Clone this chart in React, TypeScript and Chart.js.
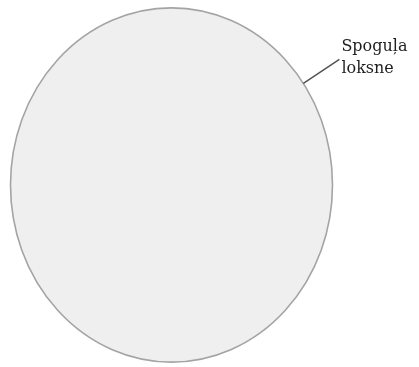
import React, { useEffect, useRef } from "react";
import { Chart, registerables } from "chart.js";

Chart.register(...registerables);

const categories = ["Spoguļa loksne"];
const values = [100];
const fillColors = ["#efefef"];
const outlineColor = "#a4a4a4";

const SCALE_Y = 1.1;

const ellipsePlugin = {
  id: "ellipse",
  beforeDatasetsDraw(chart: any) {
    const arc = chart.getDatasetMeta(0).data[0];
    if (!arc) return;
    const ctx = chart.ctx;
    ctx.save();
    ctx.translate(arc.x, arc.y);
    ctx.scale(1, SCALE_Y);
    ctx.translate(-arc.x, -arc.y);
  },
  afterDatasetsDraw(chart: any) {
    const ctx = chart.ctx;
    const arc = chart.getDatasetMeta(0).data[0];
    if (!arc) {
      ctx.restore();
      return;
    }
    // outline of the (single, full) slice, drawn without the radial seam
    ctx.beginPath();
    ctx.arc(arc.x, arc.y, arc.outerRadius, 0, Math.PI * 2);
    ctx.restore();
    ctx.save();
    ctx.strokeStyle = outlineColor;
    ctx.lineWidth = 1.6;
    ctx.stroke();
    ctx.restore();

    const theta = (-35 * Math.PI) / 180;
    const r = arc.outerRadius;
    const ax = arc.x + r * Math.cos(theta);
    const ay = arc.y + r * SCALE_Y * Math.sin(theta);
    const ex = ax + 36;
    const ey = ay - 24;
    ctx.save();
    ctx.strokeStyle = "#555555";
    ctx.lineWidth = 1.5;
    ctx.beginPath();
    ctx.moveTo(ax, ay);
    ctx.lineTo(ex, ey);
    ctx.stroke();
    ctx.fillStyle = "#1e1e1e";
    ctx.font = "16px 'DejaVu Serif', serif";
    ctx.textAlign = "left";
    ctx.textBaseline = "middle";
    const lines = String(chart.data.labels[0]).split(" ");
    ctx.fillText(lines[0], ex + 2, ey - 13);
    ctx.fillText(lines[1], ex + 2, ey + 9);
    ctx.restore();
  },
};

export default function App() {
  const ref = useRef<HTMLCanvasElement>(null);
  useEffect(() => {
    if (!ref.current) return;
    const chart = new Chart(ref.current, {
      type: "pie",
      data: {
        labels: categories,
        datasets: [
          {
            data: values,
            backgroundColor: fillColors,
            borderWidth: 0,
          },
        ],
      },
      options: {
        responsive: false,
        animation: false,
        layout: { padding: { left: 10, right: 86, top: 24, bottom: 21 } },
        plugins: { legend: { display: false }, tooltip: { enabled: false } },
      },
      plugins: [ellipsePlugin],
    });
    return () => chart.destroy();
  }, []);
  return (
    <div style={{ position: "absolute", left: 0, top: 0, width: 419, height: 367, background: "#ffffff" }}>
      <canvas ref={ref} width={419} height={367} />
    </div>
  );
}
